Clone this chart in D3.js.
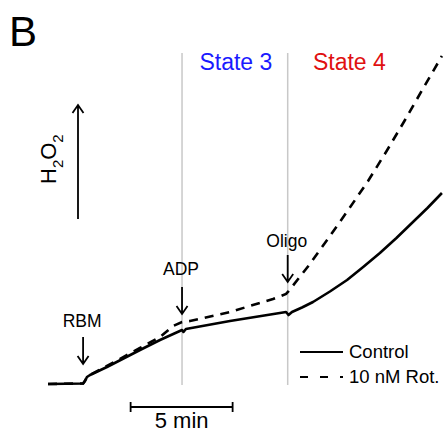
<!DOCTYPE html>
<html>
<head>
<meta charset="utf-8">
<script src="https://cdn.jsdelivr.net/npm/d3@7"></script>
<style>
  body { margin: 0; background: #fff; }
  svg text { font-family: "Liberation Sans", Arial, sans-serif; }
</style>
</head>
<body>
<svg id="chart" width="445" height="433"></svg>
<script>
// time in minutes, H2O2 in arbitrary units
const controlTime = [0, 1.72, 1.81, 1.91, 2.06, 2.89, 4.51, 5.49, 6.57, 6.64, 6.76, 8.92, 11.67, 11.79, 11.96, 12.45, 12.99, 13.82, 14.66, 15.45, 16.27, 17.08, 17.89, 18.6, 19.31];
const controlH2O2 = [0, 0.5, 3, 7, 9, 17, 34, 44, 54, 52, 55, 63, 72, 69, 72, 76.5, 82, 92.5, 104, 117, 131, 146, 162, 176, 191];
const rotTime = [0, 1.72, 1.81, 1.91, 2.06, 2.89, 4.51, 5.49, 6.13, 6.57, 6.96, 8.92, 11.03, 11.67, 11.76, 12.8, 13.82, 14.75, 15.69, 16.6, 17.50, 18.4, 19.31];
const rotH2O2 = [0, 0.5, 3, 7, 9, 18, 36, 47, 58, 62, 63, 72, 85, 90, 92, 119, 148, 175, 203, 233, 264, 296, 328];

const events = ["RBM", "ADP", "Oligo"];
const eventTime = [1.72, 6.57, 11.75];
const stateNames = ["State 3", "State 4"];
const stateColors = ["#1a1aff", "#e01010"];
const seriesNames = ["Control", "10 nM Rot."];

const svg = d3.select("#chart");

const x = d3.scaleLinear().domain([0, 20]).range([48, 456]);
const y = d3.scaleLinear().domain([0, 330]).range([384, 54]);

const toPoints = (ts, vs) => ts.map((t, i) => [t, vs[i]]);
const line = d3.line().x(d => x(d[0])).y(d => y(d[1]));

// panel letter
svg.append("text")
  .attr("x", 9).attr("y", 46)
  .attr("font-size", 42)
  .text("B");

// grey markers at ADP and Oligo
svg.append("g").selectAll("line")
  .data(eventTime.slice(1))
  .join("line")
  .attr("x1", d => x(d)).attr("x2", d => x(d))
  .attr("y1", 53).attr("y2", 385)
  .attr("stroke", "#c8c8c8")
  .attr("stroke-width", 1.5);

// state labels
const stateBounds = [[eventTime[1], eventTime[2]], [eventTime[2], 17.7]];
svg.append("g").selectAll("text")
  .data(stateNames)
  .join("text")
  .attr("x", (d, i) => (x(stateBounds[i][0]) + x(stateBounds[i][1])) / 2 + 1)
  .attr("y", 70)
  .attr("text-anchor", "middle")
  .attr("font-size", 23)
  .attr("fill", (d, i) => stateColors[i])
  .text(d => d);

// traces
svg.append("path")
  .datum(toPoints(controlTime, controlH2O2))
  .attr("d", line)
  .attr("fill", "none")
  .attr("stroke", "#000")
  .attr("stroke-width", 2.6)
  .attr("stroke-linejoin", "round");

svg.append("path")
  .datum(toPoints(rotTime, rotH2O2))
  .attr("d", line)
  .attr("fill", "none")
  .attr("stroke", "#000")
  .attr("stroke-width", 2.6)
  .attr("stroke-dasharray", "9,7");

// down arrow helper
function downArrow(g, xPos, yTop, yTip) {
  g.append("path")
    .attr("d", `M${xPos},${yTop}V${yTip}M${xPos - 5.5},${yTip - 8}L${xPos},${yTip}L${xPos + 5.5},${yTip - 8}`)
    .attr("fill", "none")
    .attr("stroke", "#000")
    .attr("stroke-width", 1.8);
}

// event arrows, placed above the higher trace
const tipGap = [13, 8, 10];
const labelGap = [10, 12, 8];
events.forEach((name, i) => {
  const t = eventTime[i];
  const hi = Math.max(...rotH2O2.filter((v, k) => Math.abs(rotTime[k] - t) < 0.3));
  const tip = y(hi) - tipGap[i];
  const top = tip - 27;
  const g = svg.append("g");
  downArrow(g, x(t), top, tip);
  g.append("text")
    .attr("x", x(t) - 1)
    .attr("y", top - labelGap[i])
    .attr("text-anchor", "middle")
    .attr("font-size", 17.5)
    .text(name);
});

// H2O2 axis arrow
svg.append("path")
  .attr("d", "M78,219V105M72.5,113L78,105L83.5,113")
  .attr("fill", "none")
  .attr("stroke", "#000")
  .attr("stroke-width", 1.8);

const yl = svg.append("text")
  .attr("transform", "translate(56,184) rotate(-90)")
  .attr("font-size", 22);
yl.append("tspan").text("H");
yl.append("tspan").attr("dy", 7).attr("font-size", 15).text("2");
yl.append("tspan").attr("dy", -7).text("O");
yl.append("tspan").attr("dy", 7).attr("font-size", 15).text("2");

// scale bar: 5 min
const barStart = 4.05;
const bar = svg.append("g").attr("stroke", "#000").attr("stroke-width", 1.8);
bar.append("line").attr("x1", x(barStart)).attr("x2", x(barStart + 5)).attr("y1", 407).attr("y2", 407);
bar.append("line").attr("x1", x(barStart)).attr("x2", x(barStart)).attr("y1", 402).attr("y2", 412);
bar.append("line").attr("x1", x(barStart + 5)).attr("x2", x(barStart + 5)).attr("y1", 402).attr("y2", 412);
svg.append("text")
  .attr("x", x(barStart + 2.5))
  .attr("y", 428)
  .attr("text-anchor", "middle")
  .attr("font-size", 22)
  .text("5 min");

// legend
const legend = svg.append("g").attr("transform", "translate(300,352)");
seriesNames.forEach((name, i) => {
  legend.append("line")
    .attr("x1", 0).attr("x2", 43)
    .attr("y1", i * 25).attr("y2", i * 25)
    .attr("stroke", "#000")
    .attr("stroke-width", 2)
    .attr("stroke-dasharray", i ? "8,12" : null);
  legend.append("text")
    .attr("x", 49)
    .attr("y", i * 25 + 6)
    .attr("font-size", 18.5)
    .text(name);
});
</script>
</body>
</html>
